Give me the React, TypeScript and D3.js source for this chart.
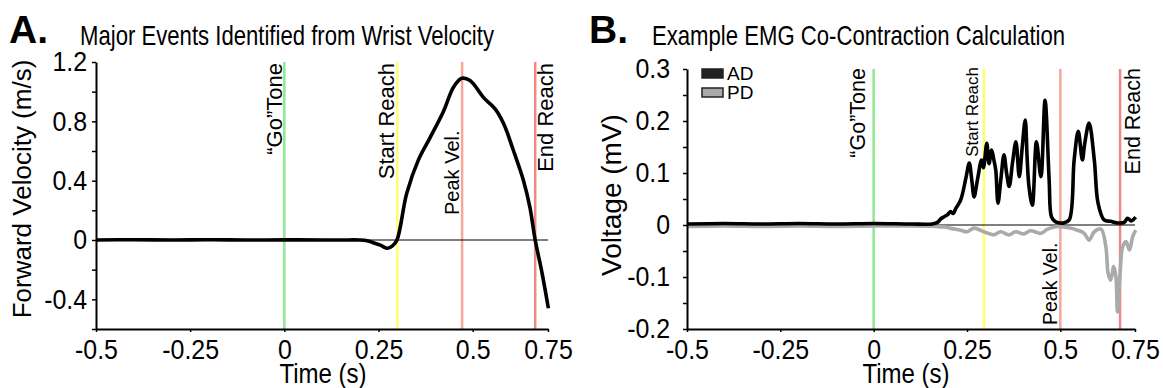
import React, { useEffect, useRef } from "react";
import * as d3 from "d3";

// ---- data ----
// panel A: wrist forward velocity (m/s) vs time (s)
const velocityTrace: [number, number][] = [
  [-0.5, 0], [-0.4, 0.002], [-0.3, 0], [-0.2, 0.002], [-0.1, 0], [0, 0.001],
  [0.1, 0], [0.15, 0], [0.2, 0], [0.22, -0.005], [0.236, -0.018], [0.255, -0.035],
  [0.274, -0.056], [0.287, -0.04], [0.299, 0], [0.325, 0.315], [0.356, 0.54],
  [0.387, 0.69], [0.423, 0.87], [0.449, 1.03], [0.471, 1.09], [0.493, 1.075],
  [0.529, 0.96], [0.559, 0.885], [0.582, 0.785], [0.608, 0.605], [0.635, 0.4],
  [0.652, 0.22], [0.666, 0], [0.684, -0.22], [0.701, -0.46],
];

// panel B: EMG traces (mV)
const adTrace: [number, number][] = [
  [-0.5, 0.002], [-0.4, 0.003], [-0.3, 0.002], [-0.2, 0.003], [-0.1, 0.002], [0, 0.003],
  [0.1, 0.002], [0.157, 0.002], [0.171, 0.005], [0.18, 0.012], [0.189, 0.016],
  [0.198, 0.02], [0.206, 0.026], [0.213, 0.022], [0.22, 0.032], [0.233, 0.048],
  [0.247, 0.09], [0.256, 0.119], [0.263, 0.085], [0.269, 0.054], [0.278, 0.087],
  [0.289, 0.125], [0.294, 0.11], [0.303, 0.157], [0.309, 0.118], [0.316, 0.144],
  [0.322, 0.125], [0.327, 0.106], [0.333, 0.042], [0.341, 0.09], [0.349, 0.135],
  [0.356, 0.1], [0.363, 0.074], [0.372, 0.12], [0.381, 0.16], [0.39, 0.093],
  [0.398, 0.15], [0.406, 0.202], [0.411, 0.13], [0.416, 0.074], [0.425, 0.038],
  [0.436, 0.16], [0.448, 0.093], [0.459, 0.24], [0.47, 0.087], [0.476, 0.016],
  [0.484, 0.008], [0.492, 0.005], [0.51, 0.004], [0.524, 0.01], [0.537, 0.125],
  [0.548, 0.18], [0.559, 0.125], [0.565, 0.155], [0.577, 0.196], [0.591, 0.125],
  [0.601, 0.042], [0.617, 0.01], [0.635, 0.007], [0.653, 0.004], [0.671, 0.005],
  [0.68, 0.013], [0.69, 0.008], [0.702, 0.015],
];

const pdTrace: [number, number][] = [
  [-0.5, -0.003], [-0.4, -0.002], [-0.3, -0.003], [-0.2, -0.002], [-0.1, -0.003], [0, -0.002],
  [0.1, -0.002], [0.17, -0.003], [0.189, -0.004], [0.21, -0.007], [0.233, -0.01],
  [0.25, -0.013], [0.269, -0.006], [0.295, -0.013], [0.322, -0.019], [0.34, -0.013],
  [0.363, -0.019], [0.38, -0.013], [0.403, -0.017], [0.42, -0.011], [0.448, -0.016],
  [0.466, -0.008], [0.492, -0.003], [0.519, -0.005], [0.546, -0.01], [0.564, -0.016],
  [0.577, -0.029], [0.591, -0.013], [0.609, -0.008], [0.622, -0.042], [0.628, -0.093],
  [0.635, -0.106], [0.643, -0.08], [0.649, -0.1], [0.653, -0.167], [0.66, -0.093],
  [0.667, -0.042], [0.676, -0.032], [0.685, -0.048], [0.694, -0.022], [0.702, -0.01],
];

// event markers (s)
const eventNames = ["\u201cGo\u201dTone", "Start Reach", "Peak Vel.", "End Reach"];
const eventColors = ["#8fe88f", "#ffff70", "#f5a899", "#f08888"];
const eventTimesA = [0, 0.3, 0.472, 0.666];
const eventTimesB = [0, 0.295, 0.5, 0.66];

// axes
const xTickValues = [-0.5, -0.25, 0, 0.25, 0.5, 0.7];
const xTickLabels = ["-0.5", "-0.25", "0", "0.25", "0.5", "0.75"];
const yTicksA = [-0.4, 0, 0.4, 0.8, 1.2];
const yMinorA = [-0.6, -0.2, 0.2, 0.6, 1.0];
const yTicksB = [-0.2, -0.1, 0, 0.1, 0.2, 0.3];
const yMinorB = [-0.15, -0.05, 0.05, 0.15, 0.25];

const legendNames = ["AD", "PD"];
const legendColors = ["#222", "#aaa"];

const FONT = "'Liberation Sans', Arial, sans-serif";
// horizontal text in the figure is condensed
const SQUEEZE_TITLE = "scale(0.82,1)";
const SQUEEZE_AXIS = "scale(0.89,1)";

function drawPanel(svg, o) {
  const x = d3.scaleLinear().domain([-0.5, 0.7]).range([o.left, o.right]);
  const y = d3.scaleLinear().domain(o.yDomain).range([o.bottom, o.top]);
  const g = svg.append("g").attr("font-family", FONT);

  // panel letter + title
  g.append("text").attr("x", o.letterX).attr("y", 43)
    .attr("font-weight", "bold").attr("font-size", 39)
    .text(o.letter);
  g.append("text").attr("transform", `translate(${o.titleX},45) ${SQUEEZE_TITLE}`)
    .attr("font-size", 27)
    .text(o.title);

  // event lines
  o.eventTimes.forEach((t, i) => {
    g.append("line")
      .attr("x1", x(t)).attr("x2", x(t))
      .attr("y1", o.top).attr("y2", o.bottom)
      .attr("stroke", eventColors[i]).attr("stroke-width", 2.5);
  });

  // zero line
  g.append("line")
    .attr("x1", o.left).attr("x2", o.right)
    .attr("y1", y(0)).attr("y2", y(0))
    .attr("stroke", "black").attr("stroke-width", 1.2);

  // traces
  const line = d3.line().x(d => x(d[0])).y(d => y(d[1])).curve(d3.curveCatmullRom.alpha(0.5));
  o.traces.forEach(tr => {
    g.append("path").datum(tr.data)
      .attr("d", line)
      .attr("fill", "none")
      .attr("stroke", tr.color)
      .attr("stroke-width", 3.6)
      .attr("stroke-linejoin", "round");
  });

  // event labels (rotated)
  o.labels.forEach((lb, i) => {
    g.append("text")
      .attr("transform", `translate(${lb.x},${lb.y}) rotate(-90)`)
      .attr("text-anchor", lb.anchor)
      .attr("font-size", lb.size)
      .text(eventNames[i]);
  });

  // axes
  const xAxis = g.append("g").attr("transform", `translate(0,${o.bottom})`)
    .call(d3.axisBottom(x).tickValues(xTickValues)
      .tickFormat((d, i) => xTickLabels[i]).tickSize(3).tickPadding(7).tickSizeOuter(0));
  const yAxis = g.append("g").attr("transform", `translate(${o.left},0)`)
    .call(d3.axisLeft(y).tickValues(o.yTicks).tickFormat(d => String(+d.toFixed(2))).tickSize(4)
      .tickPadding(o.yPad).tickSizeOuter(0));
  g.append("g").attr("transform", `translate(${o.left},0)`)
    .call(d3.axisLeft(y).tickValues(o.yMinor).tickFormat(() => "").tickSize(4).tickSizeOuter(0))
    .select(".domain").remove();

  [xAxis, yAxis].forEach(a => {
    a.attr("font-family", FONT).attr("font-size", 28);
    a.selectAll("text").attr("fill", "black").attr("transform", SQUEEZE_AXIS);
    a.select(".domain").attr("stroke-width", 2);
  });
  g.selectAll(".tick line").attr("stroke-width", 1.5);

  // axis titles
  g.append("text").attr("transform", `translate(${o.xTitleX},383) ${SQUEEZE_AXIS}`)
    .attr("text-anchor", "middle").attr("font-size", 27)
    .text("Time (s)");
  g.append("text")
    .attr("transform", `translate(${o.yTitleX},${o.yTitleY}) rotate(-90)`)
    .attr("text-anchor", "middle").attr("font-size", o.yTitleSize)
    .text(o.yTitle);

  return { x, y, g };
}

export default function App() {
  const ref = useRef(null);

  useEffect(() => {
    const svg = d3.select(ref.current);
    svg.selectAll("*").remove();

    drawPanel(svg, {
      letter: "A.", letterX: 9, title: "Major Events Identified from Wrist Velocity", titleX: 80,
      left: 96, right: 548, top: 62, bottom: 329, yDomain: [-0.6, 1.2],
      yTicks: yTicksA, yMinor: yMinorA, yPad: 6,
      eventTimes: eventTimesA,
      traces: [{ data: velocityTrace, color: "black" }],
      labels: [
        { x: 282, y: 63, anchor: "end", size: 22 },
        { x: 394, y: 63, anchor: "end", size: 22 },
        { x: 459, y: 215, anchor: "start", size: 20 },
        { x: 553, y: 63, anchor: "end", size: 22 },
      ],
      xTitleX: 323, yTitle: "Forward Velocity (m/s)", yTitleX: 31, yTitleY: 189, yTitleSize: 26,
    });

    const b = drawPanel(svg, {
      letter: "B.", letterX: 589, title: "Example EMG Co-Contraction Calculation", titleX: 652,
      left: 687, right: 1135, top: 69, bottom: 329, yDomain: [-0.2, 0.3],
      yTicks: yTicksB, yMinor: yMinorB, yPad: 15,
      eventTimes: eventTimesB,
      traces: [{ data: pdTrace, color: "#aaa" }, { data: adTrace, color: "black" }],
      labels: [
        { x: 865, y: 68, anchor: "end", size: 21.5 },
        { x: 978, y: 67, anchor: "end", size: 17 },
        { x: 1057, y: 325, anchor: "start", size: 19.5 },
        { x: 1140, y: 68, anchor: "end", size: 21.5 },
      ],
      xTitleX: 906, yTitle: "Voltage (mV)", yTitleX: 621, yTitleY: 195, yTitleSize: 28,
    });

    // legend
    legendNames.forEach((name, i) => {
      b.g.append("rect").attr("x", 702).attr("y", 69 + i * 19).attr("width", 21).attr("height", 9)
        .attr("fill", legendColors[i]).attr("stroke", "#222").attr("stroke-width", 1.5);
      b.g.append("text").attr("x", 727).attr("y", 80 + i * 19)
        .attr("font-size", 19).text(name);
    });
  }, []);

  return (
    <svg ref={ref} width={1163} height={388}
      style={{ position: "absolute", left: 0, top: 0, background: "white" }} />
  );
}
